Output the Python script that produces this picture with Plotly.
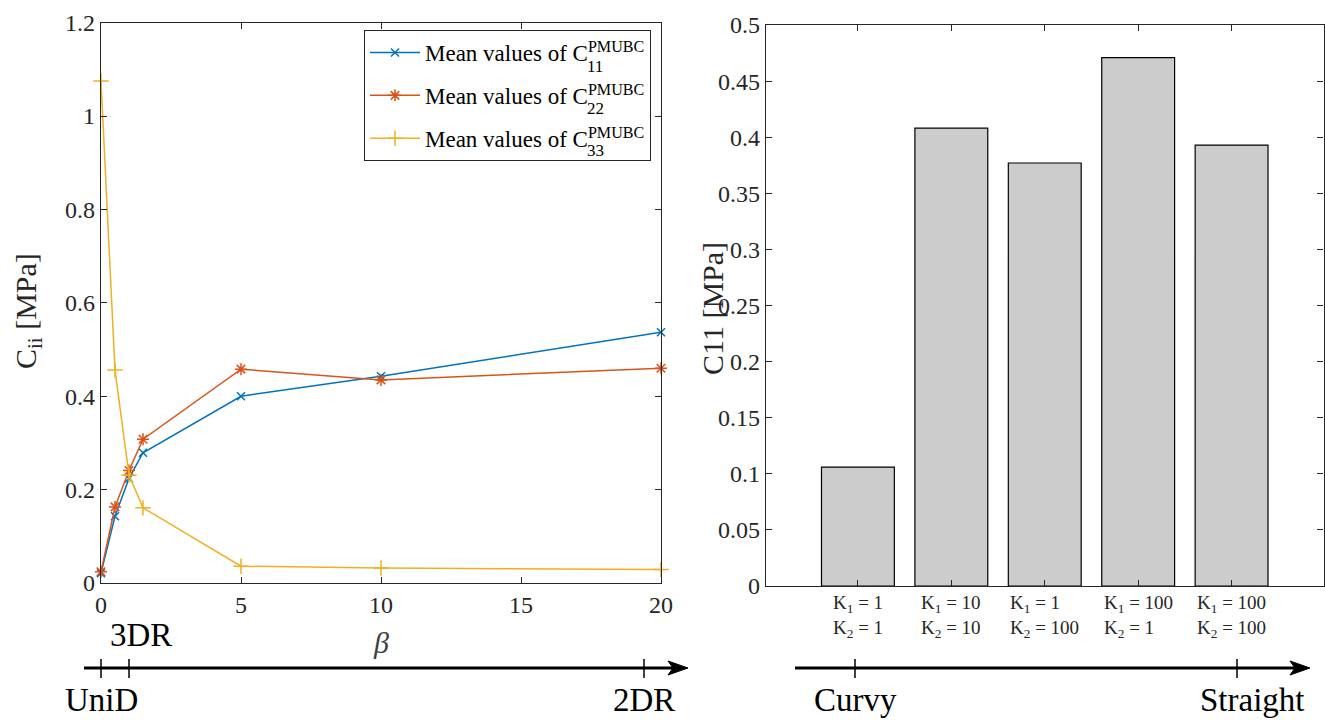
import plotly.graph_objects as go

# ---------------- data ----------------
beta = [0, 0.5, 1, 1.5, 5, 10, 20]
c11_mean = [0.021, 0.143, 0.224, 0.279, 0.400, 0.443, 0.537]
c22_mean = [0.024, 0.163, 0.241, 0.308, 0.458, 0.435, 0.460]
c33_mean = [1.075, 0.456, 0.231, 0.161, 0.036, 0.032, 0.029]
series_idx = ["11", "22", "33"]

bar_pos = [1, 2, 3, 4, 5]
bar_c11 = [0.106, 0.408, 0.377, 0.471, 0.393]
k1_vals = ["1", "10", "1", "100", "100"]
k2_vals = ["1", "10", "100", "1", "100"]

left_xticks = [0, 5, 10, 15, 20]
left_yticks = [0, 0.2, 0.4, 0.6, 0.8, 1.0, 1.2]
right_yticks = [0, 0.05, 0.1, 0.15, 0.2, 0.25, 0.3, 0.35, 0.4, 0.45, 0.5]

# ---------------- helpers ----------------
W, H = 1325, 720
FONT = "Liberation Serif"
AX = "#262626"


def px(x):
    return x / W


def py(y):
    return 1 - y / H


fig = go.Figure()

colors = ["#0072BD", "#D95319", "#EDB120"]
symbols = ["x-thin-open", "asterisk-open", "cross-thin-open"]
sizes = [8, 10, 11]
for i, vals in enumerate([c11_mean, c22_mean, c33_mean]):
    fig.add_trace(go.Scatter(
        x=beta, y=vals, mode="lines+markers",
        line=dict(color=colors[i], width=1.5),
        marker=dict(symbol=symbols[i], size=sizes[i], color=colors[i],
                    line=dict(color=colors[i], width=1.5)),
        name="Mean values of C<sup>PMUBC</sup>",
        legendgroup=series_idx[i], cliponaxis=False,
        xaxis="x", yaxis="y"))

fig.add_trace(go.Bar(
    x=bar_pos, y=bar_c11, width=0.78,
    marker=dict(color="#CCCCCC", line=dict(color="#000000", width=1.2)),
    showlegend=False, xaxis="x2", yaxis="y2"))

axis_common = dict(showline=True, linecolor=AX, linewidth=1.3, mirror="ticks",
                   ticks="inside", ticklen=6, tickcolor=AX, tickwidth=1.2,
                   showgrid=False, zeroline=False, automargin=False,
                   tickfont=dict(family=FONT, size=24, color=AX))

fig.update_layout(
    width=W, height=H, margin=dict(l=0, r=0, t=0, b=0, autoexpand=False),
    plot_bgcolor="white", paper_bgcolor="white",
    xaxis=dict(domain=[px(101), px(661)], range=[0, 20], tickvals=left_xticks,
               anchor="y", **axis_common),
    yaxis=dict(domain=[py(583), py(22.7)], range=[0, 1.2], tickvals=left_yticks,
               ticktext=[f"{v:g}" for v in left_yticks], anchor="x", **axis_common),
    xaxis2=dict(domain=[px(766), px(1323.5)], range=[0.016, 5.984], tickvals=bar_pos,
                showticklabels=False, anchor="y2", **axis_common),
    yaxis2=dict(domain=[py(586), py(25)], range=[0, 0.5], tickvals=right_yticks,
                ticktext=[f"{v:g}" for v in right_yticks], anchor="x2", **axis_common),
    legend=dict(x=px(364), y=py(30), xanchor="left", yanchor="top",
                bgcolor="white", bordercolor=AX, borderwidth=1,
                font=dict(family=FONT, size=23, color="#000000"),
                itemwidth=50, tracegroupgap=10),
    showlegend=True,
)

ann = []
# legend subscripts
for i, s in enumerate(series_idx):
    ann.append(dict(text=s, xref="paper", yref="paper", x=px(595), y=py(66 + 42 * i),
                    xanchor="center", yanchor="middle", showarrow=False,
                    font=dict(family=FONT, size=17, color="#000000")))

# bar tick labels
for p, a, b in zip(bar_pos, k1_vals, k2_vals):
    ann.append(dict(text=f"K<sub>1</sub> = {a}<br>K<sub>2</sub> = {b}", xref="x2", yref="paper",
                    x=p, y=py(616), xanchor="center", yanchor="middle", align="left",
                    showarrow=False, font=dict(family=FONT, size=19, color=AX)))

# axis titles
ann.append(dict(text="C<sub>ii</sub> [MPa]", xref="paper", yref="paper", x=px(28), y=py(311),
                textangle=-90, showarrow=False, xanchor="center", yanchor="middle",
                font=dict(family=FONT, size=30, color=AX)))
ann.append(dict(text="C11 [MPa]", xref="paper", yref="paper", x=px(712), y=py(308),
                textangle=-90, showarrow=False, xanchor="center", yanchor="middle",
                font=dict(family=FONT, size=30, color=AX)))
ann.append(dict(text="<i>β</i>", xref="paper", yref="paper", x=px(381), y=py(642),
                showarrow=False, xanchor="center", yanchor="middle",
                font=dict(family=FONT, size=30, color="#404040")))

# arrow labels
ann.append(dict(text="3DR", xref="paper", yref="paper", x=px(141), y=py(635),
                showarrow=False, xanchor="center", yanchor="middle",
                font=dict(family=FONT, size=33, color="#000000")))
for txt, x in [("UniD", 101), ("2DR", 644), ("Curvy", 855), ("Straight", 1252)]:
    ann.append(dict(text=txt, xref="paper", yref="paper", x=px(x), y=0,
                    showarrow=False, xanchor="center", yanchor="bottom",
                    font=dict(family=FONT, size=33, color="#000000")))

shapes = []
for x0, x1, tip, ticks in [(84, 675, 688, [101, 129, 644]), (795, 1297, 1310, [855, 1237])]:
    shapes.append(dict(type="line", xref="paper", yref="paper", x0=px(x0), x1=px(x1),
                       y0=py(668), y1=py(668), line=dict(color="#000000", width=3)))
    path = (f"M {px(tip)},{py(668)} L {px(tip - 20)},{py(661)} L {px(tip - 15)},{py(668)} "
            f"L {px(tip - 20)},{py(675)} Z")
    shapes.append(dict(type="path", xref="paper", yref="paper", path=path,
                       fillcolor="#000000", line=dict(color="#000000", width=1)))
    for t in ticks:
        shapes.append(dict(type="line", xref="paper", yref="paper", x0=px(t), x1=px(t),
                           y0=py(659), y1=py(678), line=dict(color="#000000", width=1.5)))

fig.update_layout(annotations=ann, shapes=shapes)
fig.write_html("out.html", config={"displayModeBar": False},
               post_script="document.body.style.margin='0';document.body.style.overflow='hidden';")
